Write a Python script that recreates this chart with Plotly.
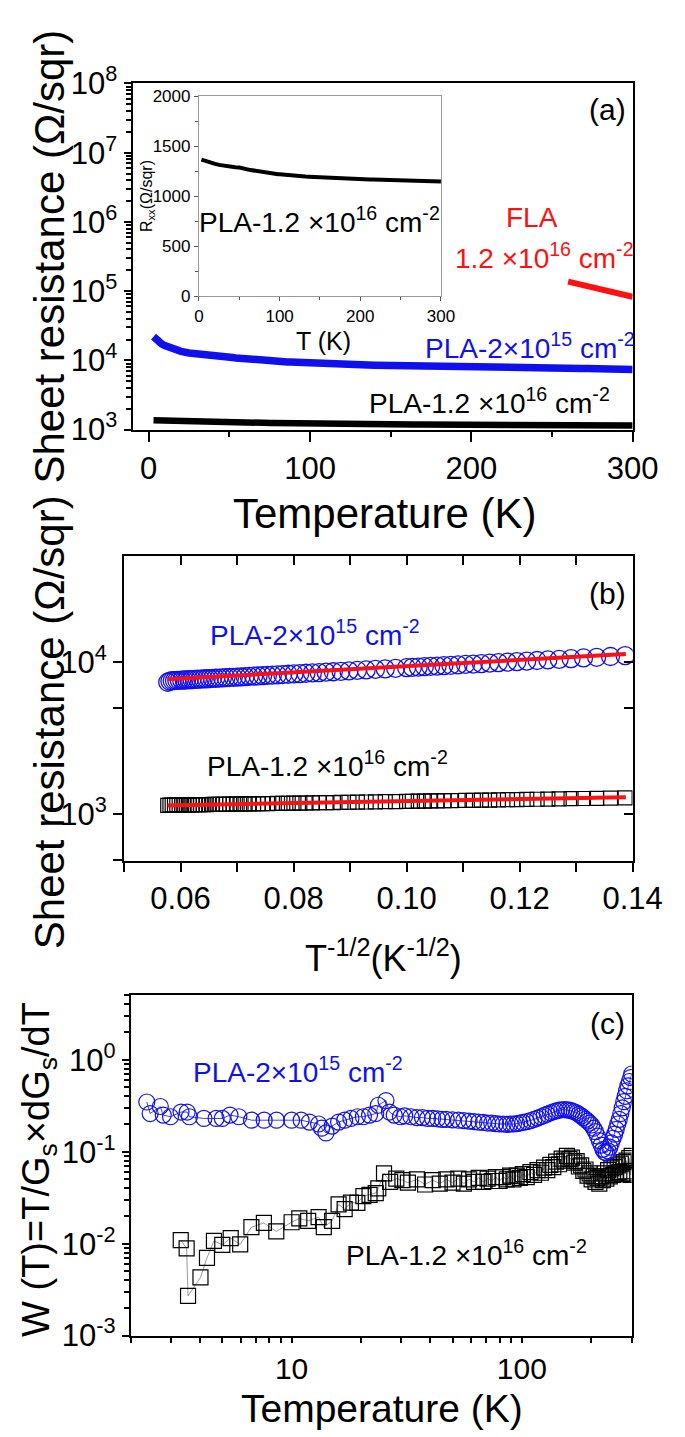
import numpy as np
import plotly.graph_objects as go

# ---------------- data ----------------
# Panel (a) / inset / (b): sheet resistance vs temperature
T_low = [3, 4, 5, 6, 7, 8, 10, 12, 14, 16, 18, 20, 25, 30, 35, 40, 45, 50]
T_hi = [52, 54, 56, 58, 60, 62, 64, 66, 68, 70, 72, 74, 76, 78, 80, 82, 84, 86, 88, 90,
        92, 94, 96, 98, 100, 104, 108, 112, 116, 120, 124, 128, 132, 136, 140, 144, 148,
        152, 156, 160, 164, 168, 172, 176, 180, 184, 188, 192, 196, 200, 204, 208, 212,
        216, 220, 224, 228, 232, 236, 240, 244, 248, 252, 256, 260, 264, 268, 272, 276,
        280, 284, 288, 292, 296, 300]

R_blue_low = [22000, 20600, 19500, 18600, 17900, 17300, 16300, 15500, 14900, 14400,
              13900, 13500, 12800, 12300, 11900, 11550, 11250, 11000]
R_blue_hi = [10970, 10840, 10710, 10600, 10490, 10380, 10290, 10200, 10110, 10030,
             9950, 9870, 9800, 9730, 9670, 9610, 9550, 9490, 9440, 9380,
             9330, 9290, 9240, 9190, 9150,
             9070, 8990, 8920, 8845, 8780, 8720, 8660, 8610, 8555, 8505,
             8460, 8415, 8370, 8330, 8290, 8255, 8215, 8180, 8150, 8115,
             8085, 8055, 8025, 8000, 7970, 7945, 7920, 7895, 7870, 7850,
             7830, 7805, 7785, 7765, 7745, 7725, 7705, 7690, 7670, 7650,
             7635, 7620, 7600, 7590, 7570, 7555, 7540, 7520, 7460, 7350]

R_black_low = [1365, 1362, 1359, 1356, 1354, 1351, 1346, 1341, 1336, 1332, 1327, 1323,
               1313, 1305, 1299, 1294, 1290, 1287]
R_black_hi = [1285, 1280, 1276, 1272, 1268, 1264, 1261, 1258, 1255, 1252,
              1249, 1246, 1243, 1241, 1238, 1236, 1234, 1232, 1230, 1228,
              1226, 1224, 1222, 1220, 1219,
              1215, 1212, 1209, 1207, 1204, 1202, 1199, 1197, 1195, 1193,
              1191, 1189, 1187, 1186, 1184, 1183, 1181, 1180, 1178, 1177,
              1175, 1174, 1173, 1172, 1171, 1170, 1168, 1167, 1166, 1165,
              1164, 1163, 1163, 1162, 1161, 1160, 1159, 1158, 1158, 1157,
              1156, 1155, 1155, 1154, 1153, 1153, 1152, 1151, 1151, 1148]

T_fla = [260, 270, 280, 290, 300]
R_fla = [137000, 122000, 108000, 95000, 83000]

# Panel (b): fits (T^-1/2, R)
fit_x = [0.0577, 0.1388]
fit_blue = [7680, 11250]
fit_black = [1146, 1298]

# Panel (c): W(T)
Tc_blue = [2.35, 2.43, 2.69, 2.77, 2.98, 3.31, 3.52, 3.6, 4.16, 4.7, 5.0, 5.4, 5.9, 6.7,
           7.6, 8.6, 10, 11, 11.95, 13.1, 13.5, 14.1, 15, 16, 17, 18.1, 19.3, 20.5, 21.8,
           23.2, 23.8, 25.7, 26.6, 27.9, 29.7,
           31, 33, 35, 37, 39, 41, 43, 45, 47,
           50, 53, 56, 59, 62, 65, 68, 71, 74, 77, 80, 83, 86, 89, 92, 95, 98,
           101, 105, 109, 113, 117, 121, 125, 129, 133, 137, 141, 145, 149, 153, 157,
           161, 165, 169, 173, 177, 181, 185, 189, 193, 197, 201, 205, 209, 213, 217,
           221, 225, 229, 233, 237, 241, 245, 249, 253, 257, 261, 265, 269, 273, 277,
           281, 285, 289, 293, 297, 300]
Wc_blue = [0.347, 0.26, 0.31, 0.25, 0.24, 0.27, 0.27, 0.24, 0.23, 0.23, 0.23, 0.25, 0.24, 0.22,
           0.22, 0.22, 0.22, 0.22, 0.21, 0.20, 0.18, 0.16, 0.19, 0.21, 0.22, 0.23, 0.24, 0.24, 0.25,
           0.26, 0.32, 0.36, 0.27, 0.25, 0.24,
           0.245, 0.24, 0.235, 0.235, 0.23, 0.23, 0.228, 0.225, 0.225,
           0.222, 0.22, 0.218, 0.215, 0.212, 0.21, 0.208, 0.205, 0.205, 0.202, 0.2, 0.2, 0.198,
           0.2, 0.2, 0.202, 0.205,
           0.208, 0.212, 0.218, 0.225, 0.232, 0.24, 0.248, 0.256, 0.265, 0.272, 0.278, 0.283,
           0.286, 0.287, 0.285,
           0.283, 0.278, 0.272, 0.265, 0.255, 0.245, 0.235, 0.225, 0.215, 0.205, 0.195, 0.18,
           0.165, 0.148, 0.132,
           0.118, 0.106, 0.099, 0.097, 0.102, 0.112, 0.125, 0.14, 0.155, 0.175, 0.2, 0.225,
           0.26, 0.3, 0.35,
           0.4, 0.46, 0.52, 0.58, 0.64, 0.7]

Tc_black = [3.3, 3.5, 3.55, 4.02, 4.29, 4.6, 5.0, 5.44, 5.98, 6.69, 7.58, 8.58, 10, 10.8,
            11.8, 13.1, 13.8, 15, 16, 17, 18.1, 19.3, 20.5, 21.8, 23.2, 23.8, 25.2, 26.8,
            28.5, 30.3,
            32, 35, 38, 41, 44, 47, 50, 53, 56, 59, 62, 65, 68, 71, 74, 77, 80, 83, 86, 89,
            92, 95, 98,
            101, 105, 109, 113, 117, 121, 125, 129, 133, 137, 141, 145, 149, 153, 157,
            161, 165, 169, 173, 177, 181, 185, 189, 193, 197, 201, 205, 209, 213, 217,
            221, 225, 229, 233, 237, 241, 245, 249, 253, 257, 261, 265, 269, 273, 277,
            281, 285, 289, 293, 297, 300]
Wc_black = [0.0109, 0.0089, 0.0027, 0.0043, 0.007, 0.0107, 0.0097, 0.0115, 0.0098, 0.0151,
            0.0168, 0.0136, 0.0171, 0.0188, 0.0177, 0.0194, 0.0151, 0.0177, 0.0268, 0.0237,
            0.028, 0.0278, 0.0328, 0.034, 0.0355, 0.040, 0.058, 0.047, 0.051, 0.049,
            0.046, 0.05, 0.044, 0.049, 0.045, 0.05, 0.046, 0.051, 0.045, 0.05, 0.047, 0.052,
            0.047, 0.051, 0.048, 0.053, 0.048, 0.053, 0.05, 0.055, 0.05, 0.055, 0.052,
            0.057, 0.053, 0.06, 0.056, 0.063, 0.059, 0.067, 0.063, 0.072, 0.068,
            0.078, 0.073, 0.084, 0.08, 0.09, 0.083, 0.086, 0.076, 0.079, 0.069,
            0.071, 0.062, 0.064, 0.055, 0.058, 0.05, 0.054, 0.047, 0.052, 0.045,
            0.054, 0.049, 0.058, 0.051, 0.063, 0.054, 0.066, 0.056, 0.068, 0.058,
            0.071, 0.06, 0.074, 0.057, 0.077, 0.061, 0.08, 0.058, 0.085, 0.056,
            0.09]

# tick labels
a_xticks = [0, 100, 200, 300]
a_yticks = [1e3, 1e4, 1e5, 1e6, 1e7, 1e8]
a_yticktext = ["10<sup>3</sup>", "10<sup>4</sup>", "10<sup>5</sup>", "10<sup>6</sup>",
               "10<sup>7</sup>", "10<sup>8</sup>"]
b_xticks = [0.06, 0.08, 0.10, 0.12, 0.14]
b_xticktext = ["0.06", "0.08", "0.10", "0.12", "0.14"]
b_yticks = [1e3, 1e4]
b_yticktext = ["10<sup>3</sup>", "10<sup>4</sup>"]
c_xticks = [10, 100]
c_xticktext = ["10", "100"]
c_yticks = [1e-3, 1e-2, 1e-1, 1]
c_yticktext = ["10<sup>-3</sup>", "10<sup>-2</sup>", "10<sup>-1</sup>", "10<sup>0</sup>"]
in_xticks = [0, 100, 200, 300]
in_yticks = [0, 500, 1000, 1500, 2000]

# ---------------- figure ----------------
W, H = 685, 1437
FONT = "Liberation Sans, Arial, sans-serif"
BLUE = "#1010ee"
RED = "#ff1010"


def P(x, y):
    return x / W, 1 - y / H


def dom_x(x0, x1):
    return [x0 / W, x1 / W]


def dom_y(y0, y1):
    return [1 - y1 / H, 1 - y0 / H]


T_all = T_low + T_hi
R_blue = R_blue_low + R_blue_hi
R_black = R_black_low + R_black_hi
xb = (np.array(T_hi, dtype=float) ** -0.5).tolist()

fig = go.Figure()
# (a)
fig.add_trace(go.Scatter(x=T_all, y=R_black, mode="lines", line=dict(color="black", width=6.5),
                         xaxis="x", yaxis="y"))
fig.add_trace(go.Scatter(x=T_all, y=R_blue, mode="lines", line=dict(color=BLUE, width=7.5),
                         xaxis="x", yaxis="y"))
fig.add_trace(go.Scatter(x=T_fla, y=R_fla, mode="lines", line=dict(color=RED, width=6),
                         xaxis="x", yaxis="y"))
# inset
fig.add_trace(go.Scatter(x=T_all, y=R_black, mode="lines", line=dict(color="black", width=4),
                         xaxis="x4", yaxis="y4"))
# (b)
fig.add_trace(go.Scatter(x=xb, y=R_blue_hi, mode="markers",
                         marker=dict(symbol="circle-open", size=18, color=BLUE, line=dict(width=1.3)),
                         xaxis="x2", yaxis="y2"))
fig.add_trace(go.Scatter(x=xb, y=R_black_hi, mode="markers",
                         marker=dict(symbol="square-open", size=14, color="black", line=dict(width=1.2)),
                         xaxis="x2", yaxis="y2"))
fig.add_trace(go.Scatter(x=fit_x, y=fit_blue, mode="lines", line=dict(color=RED, width=4),
                         xaxis="x2", yaxis="y2"))
fig.add_trace(go.Scatter(x=fit_x, y=fit_black, mode="lines", line=dict(color=RED, width=4),
                         xaxis="x2", yaxis="y2"))
fig.add_trace(go.Scatter(x=[], y=[], xaxis="x5", yaxis="y5"))
# (c)
fig.add_trace(go.Scatter(x=Tc_black, y=Wc_black, mode="lines+markers",
                         line=dict(color="#808080", width=0.8),
                         marker=dict(symbol="square-open", size=15, color="black", line=dict(width=1.2)),
                         xaxis="x3", yaxis="y3"))
fig.add_trace(go.Scatter(x=Tc_blue, y=Wc_blue, mode="lines+markers",
                         line=dict(color=BLUE, width=0.8),
                         marker=dict(symbol="circle-open", size=16, color=BLUE, line=dict(width=1.2)),
                         xaxis="x3", yaxis="y3"))

base = dict(showline=True, linecolor="black", linewidth=2, mirror=True, ticks="outside",
            tickwidth=2, ticklen=9, tickcolor="black", showgrid=False, zeroline=False,
            tickfont=dict(family=FONT, size=31, color="black"))


def ax(**kw):
    d = dict(base)
    d.update(kw)
    return d


def log_minor(decs, top=10):
    return [m * 10 ** d for d in decs for m in range(2, 10) if m * 10 ** d <= top]


fig.update_layout(
    width=W, height=H, margin=dict(l=0, r=0, t=0, b=0),
    paper_bgcolor="white", plot_bgcolor="white", showlegend=False,
    font=dict(family=FONT, color="black"),
    xaxis=ax(domain=dom_x(126, 653), anchor="y", range=[-10, 300], tickmode="array",
             tickvals=a_xticks, ticklen=10,
             minor=dict(tickmode="array", tickvals=[50, 150, 250], ticks="outside", ticklen=5,
                        tickwidth=2, tickcolor="black")),
    yaxis=ax(domain=dom_y(55, 411), anchor="x", type="log", range=[3, 8], tickmode="array",
             tickvals=a_yticks, ticktext=a_yticktext, ticklen=7,
             minor=dict(tickmode="array", tickvals=log_minor([3, 4, 5, 6, 7], 1e8), ticks="outside",
                        ticklen=5, tickwidth=1.5, tickcolor="black")),
    xaxis2=ax(domain=dom_x(117, 653), anchor="y2", range=[0.05, 0.14], mirror=True,
              tickmode="array", tickvals=b_xticks, ticktext=b_xticktext,
              minor=dict(tickmode="array", tickvals=[0.05, 0.07, 0.09, 0.11, 0.13], ticks="outside",
                         ticklen=9, tickwidth=2, tickcolor="black")),
    yaxis2=ax(domain=dom_y(541, 855), anchor="x2", type="log", range=[np.log10(494), np.log10(49400)],
              tickmode="array", tickvals=b_yticks, ticktext=b_yticktext,
              minor=dict(tickmode="array", tickvals=[500, 5000], ticks="outside", ticklen=9,
                         tickwidth=2, tickcolor="black")),
    xaxis5=dict(overlaying="x2", anchor="y2", side="top", range=[0.05, 0.14], showline=False,
                showgrid=False, zeroline=False, ticks="inside", ticklen=9, tickwidth=2,
                tickcolor="black", showticklabels=False, tickmode="array", tickvals=b_xticks,
                minor=dict(tickmode="array", tickvals=[0.07, 0.09, 0.11, 0.13], ticks="inside",
                           ticklen=9, tickwidth=2, tickcolor="black")),
    yaxis5=dict(overlaying="y2", anchor="x2", side="right", type="log",
                range=[np.log10(494), np.log10(49400)], showline=False, showgrid=False,
                zeroline=False, ticks="inside", ticklen=9, tickwidth=2, tickcolor="black",
                showticklabels=False, tickmode="array", tickvals=b_yticks,
                minor=dict(tickmode="array", tickvals=[5000], ticks="inside", ticklen=9,
                           tickwidth=2, tickcolor="black")),
    xaxis3=ax(domain=dom_x(124, 652), anchor="y3", type="log", range=[np.log10(2), np.log10(300)],
              tickmode="array", tickvals=c_xticks, ticktext=c_xticktext, ticklen=5,
              tickfont=dict(family=FONT, size=30, color="black"),
              minor=dict(tickmode="array", tickvals=log_minor([0, 1, 2], 300), ticks="outside",
                         ticklen=5, tickwidth=1.5, tickcolor="black")),
    yaxis3=ax(domain=dom_y(993, 1343), anchor="x3", type="log", range=[-3, 0.7],
              tickmode="array", tickvals=c_yticks, ticktext=c_yticktext, ticklen=7,
              minor=dict(tickmode="array", tickvals=log_minor([-3, -2, -1, 0], 5), ticks="outside",
                         ticklen=5, tickwidth=1.5, tickcolor="black")),
    xaxis4=dict(domain=dom_x(196, 451), anchor="y4", range=[0, 300], showline=True,
                linecolor="#999999", linewidth=1.2, mirror=True, ticks="outside", ticklen=4,
                tickwidth=1, tickcolor="#555555", showgrid=False, zeroline=False,
                tickmode="array", tickvals=in_xticks,
                tickfont=dict(family=FONT, size=17, color="black"),
                minor=dict(tickmode="array", tickvals=[50, 150, 250], ticks="outside", ticklen=3,
                           tickwidth=1, tickcolor="#555555")),
    yaxis4=dict(domain=dom_y(68, 274), anchor="x4", range=[0, 2000], showline=True,
                linecolor="#999999", linewidth=1.2, mirror=True, ticks="outside", ticklen=4,
                tickwidth=1, tickcolor="#555555", showgrid=False, zeroline=False,
                tickmode="array", tickvals=in_yticks,
                tickfont=dict(family=FONT, size=17, color="black"),
                minor=dict(tickmode="array", tickvals=[250, 750, 1250, 1750], ticks="outside",
                           ticklen=3, tickwidth=1, tickcolor="#555555")),
)


def ann(x, y, text, size, color="black", angle=0):
    px, py = P(x, y)
    fig.add_annotation(x=px, y=py, xref="paper", yref="paper", text=text, showarrow=False,
                       xanchor="center", yanchor="middle", textangle=angle,
                       font=dict(family=FONT, size=size, color=color))


LBL16 = "PLA-1.2 \u00d710<sup>16</sup> cm<sup>-2</sup>"
LBL15 = "PLA-2\u00d710<sup>15</sup> cm<sup>-2</sup>"

# (a)
ann(627, 82, "(a)", 30)
ann(547, 193, "FLA", 28, RED)
ann(560, 232, "1.2 \u00d710<sup>16</sup> cm<sup>-2</sup>", 28, RED)
ann(545, 325, LBL15, 28, BLUE)
ann(502, 382, LBL16, 28)
ann(323, 195, LBL16, 28)
ann(327, 320, "T (K)", 25)
ann(141, 171, "R<sub>xx</sub>(\u03a9/sqr)", 16, angle=-90)
ann(38, 233, "Sheet resistance (\u03a9/sqr)", 42, angle=-90)
ann(392, 497, "Temperature (K)", 42)
# (b)
ann(627, 580, "(b)", 30)
ann(318, 620, LBL15, 28, BLUE)
ann(331, 755, LBL16, 28)
ann(38, 712, "Sheet resistance (\u03a9/sqr)", 42, angle=-90)
ann(390, 953, "T<sup>-1/2</sup>(K<sup>-1/2</sup>)", 36)
# (c)
ann(626, 1022, "(c)", 30)
ann(300, 1070, LBL15, 28, BLUE)
ann(478, 1258, LBL16, 28)
ann(28, 1172, "W (T)=T/G<sub>s</sub>\u00d7dG<sub>s</sub>/dT", 38, angle=-90)
ann(389, 1418, "Temperature (K)", 39)

fig.write_html("out.html")
